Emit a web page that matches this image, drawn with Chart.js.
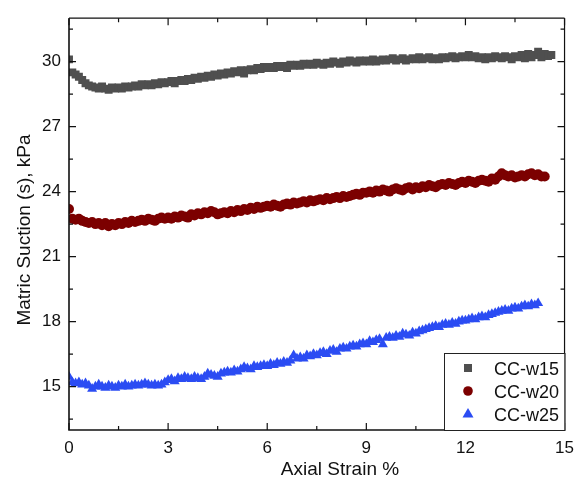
<!DOCTYPE html>
<html>
<head>
<meta charset="utf-8">
<script src="https://cdn.jsdelivr.net/npm/chart.js@4.4.0/dist/chart.umd.min.js"></script>
<style>
  body { margin: 0; background: #fff; }
  #wrap { width: 582px; height: 481px; }
</style>
</head>
<body>
<div id="wrap"><canvas id="chart" width="582" height="481"></canvas></div>
<script>
// axial strain (%) read every 0.1 %
const strain = [
  0, 0.1, 0.2, 0.3, 0.4, 0.5, 0.6, 0.7, 0.8, 0.9,
  1, 1.1, 1.2, 1.3, 1.4, 1.5, 1.6, 1.7, 1.8, 1.9,
  2, 2.1, 2.2, 2.3, 2.4, 2.5, 2.6, 2.7, 2.8, 2.9,
  3, 3.1, 3.2, 3.3, 3.4, 3.5, 3.6, 3.7, 3.8, 3.9,
  4, 4.1, 4.2, 4.3, 4.4, 4.5, 4.6, 4.7, 4.8, 4.9,
  5, 5.1, 5.2, 5.3, 5.4, 5.5, 5.6, 5.7, 5.8, 5.9,
  6, 6.1, 6.2, 6.3, 6.4, 6.5, 6.6, 6.7, 6.8, 6.9,
  7, 7.1, 7.2, 7.3, 7.4, 7.5, 7.6, 7.7, 7.8, 7.9,
  8, 8.1, 8.2, 8.3, 8.4, 8.5, 8.6, 8.7, 8.8, 8.9,
  9, 9.1, 9.2, 9.3, 9.4, 9.5, 9.6, 9.7, 9.8, 9.9,
  10, 10.1, 10.2, 10.3, 10.4, 10.5, 10.6, 10.7, 10.8, 10.9,
  11, 11.1, 11.2, 11.3, 11.4, 11.5, 11.6, 11.7, 11.8, 11.9,
  12, 12.1, 12.2, 12.3, 12.4, 12.5, 12.6, 12.7, 12.8, 12.9,
  13, 13.1, 13.2, 13.3, 13.4, 13.5, 13.6, 13.7, 13.8, 13.9,
  14, 14.1, 14.2, 14.3, 14.4, 14.5, 14.6
];

// matric suction (kPa)
const suctionW15 = [
  30.1, 29.5, 29.4, 29.3, 29.15, 29.0, 28.9, 28.85, 28.8, 28.75,
  28.85, 28.75, 28.7, 28.8, 28.75, 28.8, 28.75, 28.85, 28.8, 28.85,
  28.9, 28.85, 28.95, 28.9, 28.95, 28.9, 29.0, 28.95, 29.05, 29.0,
  29.05, 29.1, 29.0, 29.1, 29.15, 29.1, 29.2, 29.15, 29.25, 29.2,
  29.3, 29.25, 29.35, 29.3, 29.4, 29.35, 29.45, 29.4, 29.5, 29.45,
  29.55, 29.5, 29.6, 29.45, 29.6, 29.65, 29.6, 29.7, 29.65, 29.75,
  29.7, 29.75, 29.7, 29.8, 29.75, 29.8, 29.7, 29.85, 29.8, 29.85,
  29.8, 29.9, 29.85, 29.9, 29.85, 29.95, 29.9, 29.85, 29.95, 29.9,
  30.0, 29.95, 29.9, 30.0, 29.95, 30.05, 30.0, 29.95, 30.05, 30.0,
  30.05, 30.0, 30.1, 30.0, 30.05, 30.1, 30.05, 30.1, 30.15, 30.05,
  30.1, 30.15, 30.05, 30.1, 30.15, 30.1, 30.2, 30.1, 30.15, 30.2,
  30.1, 30.15, 30.1, 30.2, 30.15, 30.2, 30.25, 30.15, 30.2, 30.25,
  30.2, 30.3, 30.2, 30.25, 30.15, 30.2, 30.1, 30.2, 30.15, 30.25,
  30.2, 30.15, 30.25, 30.2, 30.1, 30.25, 30.2, 30.3, 30.15, 30.35,
  30.2, 30.3, 30.45, 30.2, 30.35, 30.25, 30.3
];
const suctionW20 = [
  23.2, 22.75, 22.7, 22.75, 22.65, 22.6, 22.55, 22.6, 22.5, 22.55,
  22.45, 22.55, 22.4, 22.5, 22.45, 22.55, 22.5, 22.6, 22.55, 22.65,
  22.6, 22.65, 22.7, 22.65, 22.75, 22.7, 22.65, 22.75, 22.8, 22.75,
  22.8, 22.75, 22.85, 22.8, 22.9, 22.85, 22.8, 22.95, 22.9, 23.0,
  22.95, 23.05, 23.0, 23.1, 23.05, 22.95, 23.0, 23.05, 23.0, 23.1,
  23.05, 23.15, 23.1, 23.2, 23.15, 23.25, 23.2, 23.3, 23.25, 23.3,
  23.35, 23.3, 23.4, 23.35, 23.3, 23.4, 23.45, 23.4, 23.5, 23.45,
  23.5, 23.55, 23.5, 23.6, 23.55, 23.6, 23.65, 23.6, 23.7, 23.65,
  23.7, 23.75, 23.7, 23.8, 23.75, 23.8, 23.85, 23.9, 23.85, 23.95,
  23.95, 24.0, 23.95, 24.05, 24.0, 24.1, 24.05, 24.0, 24.1, 24.15,
  24.1, 24.05, 24.15, 24.2, 24.1, 24.2, 24.15, 24.25, 24.2, 24.3,
  24.25, 24.2, 24.3, 24.35, 24.3, 24.4, 24.35, 24.3, 24.4, 24.45,
  24.4, 24.5, 24.45, 24.4, 24.5, 24.55, 24.5, 24.45, 24.6, 24.55,
  24.7, 24.85, 24.75, 24.7, 24.75, 24.65, 24.7, 24.75, 24.7, 24.8,
  24.85, 24.75, 24.8, 24.7, 24.7
];
const suctionW25 = [
  15.45, 15.2, 15.15, 15.2, 15.1, 15.15, 15.05, 14.9, 15.0, 15.1,
  15.0, 14.95, 15.05, 15.0, 14.95, 15.05, 15.0, 15.1, 15.0, 15.05,
  15.1, 15.05, 15.1, 15.15, 15.1, 15.05, 15.1, 15.05, 15.1, 15.2,
  15.3, 15.35, 15.25, 15.4, 15.35, 15.45, 15.4, 15.35, 15.45, 15.4,
  15.35, 15.45, 15.6, 15.55, 15.5, 15.45, 15.6, 15.65, 15.7, 15.65,
  15.75, 15.7, 15.8, 15.9, 15.85, 15.8, 15.95, 15.9, 15.95, 16.0,
  15.95, 16.05, 16.0, 16.1, 16.05, 16.15, 16.1, 16.2, 16.45, 16.3,
  16.35, 16.3, 16.45, 16.4, 16.5, 16.45, 16.55, 16.6, 16.5, 16.65,
  16.7, 16.6, 16.75, 16.8, 16.75, 16.85, 16.9, 16.85, 16.95, 17.0,
  16.95, 17.1, 17.05, 17.15, 17.2, 16.95, 17.25, 17.3, 17.25, 17.35,
  17.3, 17.45, 17.4, 17.35, 17.5, 17.45, 17.55, 17.6, 17.65, 17.7,
  17.75, 17.8, 17.75, 17.85, 17.9, 17.85, 17.95, 17.9, 18.0, 18.05,
  18.05, 18.1, 18.15, 18.1, 18.2, 18.25, 18.2, 18.3, 18.35, 18.4,
  18.45, 18.5, 18.55, 18.5, 18.6, 18.65, 18.6, 18.7, 18.75, 18.7,
  18.8, 18.75, 18.85
];

const seriesNames = ["CC-w15", "CC-w20", "CC-w25"];
const xTicks = [0, 3, 6, 9, 12, 15];
const xMinor = [1.5, 4.5, 7.5, 10.5, 13.5];
const yTicks = [15, 18, 21, 24, 27, 30];
const yMinor = [13.5, 16.5, 19.5, 22.5, 25.5, 28.5, 31.5];

const FONT = "'Liberation Sans', Arial, sans-serif";

function toPoints(ys) {
  return ys.map((y, i) => ({ x: strain[i], y: y }));
}

// box, inward ticks, axis titles and legend inside the plot
const framePlugin = {
  id: "frame",
  afterDatasetsDraw(chart) {
    const ctx = chart.ctx;
    const a = chart.chartArea;
    const xs = chart.scales.x;
    const ys = chart.scales.y;
    ctx.save();

    ctx.strokeStyle = "#111";
    ctx.lineWidth = 1.2;
    ctx.beginPath();
    ctx.moveTo(a.left, a.top); ctx.lineTo(a.right, a.top);
    ctx.moveTo(a.right, a.top); ctx.lineTo(a.right, a.bottom);
    ctx.stroke();
    ctx.lineWidth = 1.6;
    ctx.beginPath();
    ctx.moveTo(a.left, a.top); ctx.lineTo(a.left, a.bottom);
    ctx.lineTo(a.right, a.bottom);
    ctx.stroke();

    ctx.lineWidth = 1.2;
    ctx.beginPath();
    const tickX = (v, len) => {
      const px = xs.getPixelForValue(v);
      ctx.moveTo(px, a.bottom); ctx.lineTo(px, a.bottom - len);
      ctx.moveTo(px, a.top); ctx.lineTo(px, a.top + len);
    };
    const tickY = (v, len) => {
      const py = ys.getPixelForValue(v);
      ctx.moveTo(a.left, py); ctx.lineTo(a.left + len, py);
      ctx.moveTo(a.right, py); ctx.lineTo(a.right - len, py);
    };
    xTicks.forEach(v => tickX(v, 7));
    xMinor.forEach(v => tickX(v, 4));
    yTicks.forEach(v => tickY(v, 7));
    yMinor.forEach(v => tickY(v, 4));
    ctx.stroke();

    // axis titles
    ctx.fillStyle = "#111";
    ctx.font = "19px " + FONT;
    ctx.textAlign = "center";
    ctx.textBaseline = "alphabetic";
    ctx.fillText("Axial Strain %", 340, 475);
    ctx.save();
    ctx.translate(30, 230);
    ctx.rotate(-Math.PI / 2);
    ctx.fillText("Matric Suction (s), kPa", 0, 0);
    ctx.restore();

    // legend
    const lx = 444, ly = 353, lw = a.right - lx, lh = a.bottom - ly;
    ctx.fillStyle = "#fff";
    ctx.fillRect(lx, ly, lw, lh);
    ctx.strokeStyle = "#222";
    ctx.lineWidth = 1;
    ctx.strokeRect(lx + 0.5, ly + 0.5, lw, lh);
    const rows = [368, 391, 414];
    ctx.font = "18px " + FONT;
    ctx.textAlign = "left";
    chart.data.datasets.forEach((ds, i) => {
      const cy = rows[i];
      const cx = 468;
      ctx.fillStyle = ds.backgroundColor;
      ctx.beginPath();
      if (ds.pointStyle === "rect") {
        ctx.rect(cx - 4, cy - 4, 8, 8);
      } else if (ds.pointStyle === "circle") {
        ctx.arc(cx, cy, 4.8, 0, Math.PI * 2);
      } else {
        ctx.moveTo(cx, cy - 6);
        ctx.lineTo(cx + 5.5, cy + 3.5);
        ctx.lineTo(cx - 5.5, cy + 3.5);
        ctx.closePath();
      }
      ctx.fill();
      ctx.fillStyle = "#111";
      ctx.fillText(ds.label, 494, cy + 6.5);
    });
    ctx.restore();
  }
};

new Chart(document.getElementById("chart"), {
  type: "scatter",
  data: {
    datasets: [
      {
        label: seriesNames[0],
        data: toPoints(suctionW15),
        pointStyle: "rect",
        pointRadius: 5.6,
        backgroundColor: "#4f4f4f",
        borderColor: "#4f4f4f",
        borderWidth: 0,
        clip: 0
      },
      {
        label: seriesNames[1],
        data: toPoints(suctionW20),
        pointStyle: "circle",
        pointRadius: 5,
        backgroundColor: "#7c0000",
        borderColor: "#7c0000",
        borderWidth: 0,
        clip: 0
      },
      {
        label: seriesNames[2],
        data: toPoints(suctionW25),
        pointStyle: "triangle",
        pointRadius: 5.8,
        backgroundColor: "#2b4cf3",
        borderColor: "#2b4cf3",
        borderWidth: 0,
        clip: 0
      }
    ]
  },
  options: {
    responsive: false,
    animation: false,
    events: [],
    layout: { padding: { top: 10, right: 17, left: 0, bottom: 0 } },
    plugins: { legend: { display: false }, tooltip: { enabled: false } },
    scales: {
      x: {
        type: "linear",
        min: 0,
        max: 15,
        afterBuildTicks: s => { s.ticks = xTicks.map(v => ({ value: v })); },
        afterFit: s => { s.height = 51; },
        grid: { display: false, drawTicks: false },
        border: { display: false },
        ticks: { padding: 8, color: "#111", font: { size: 17, family: FONT }, maxRotation: 0 }
      },
      y: {
        type: "linear",
        min: 13,
        max: 32,
        afterBuildTicks: s => { s.ticks = yTicks.map(v => ({ value: v })); },
        afterFit: s => { s.width = 69; },
        grid: { display: false, drawTicks: false },
        border: { display: false },
        ticks: { padding: 8, color: "#111", font: { size: 17, family: FONT } }
      }
    }
  },
  plugins: [framePlugin]
});
</script>
</body>
</html>
